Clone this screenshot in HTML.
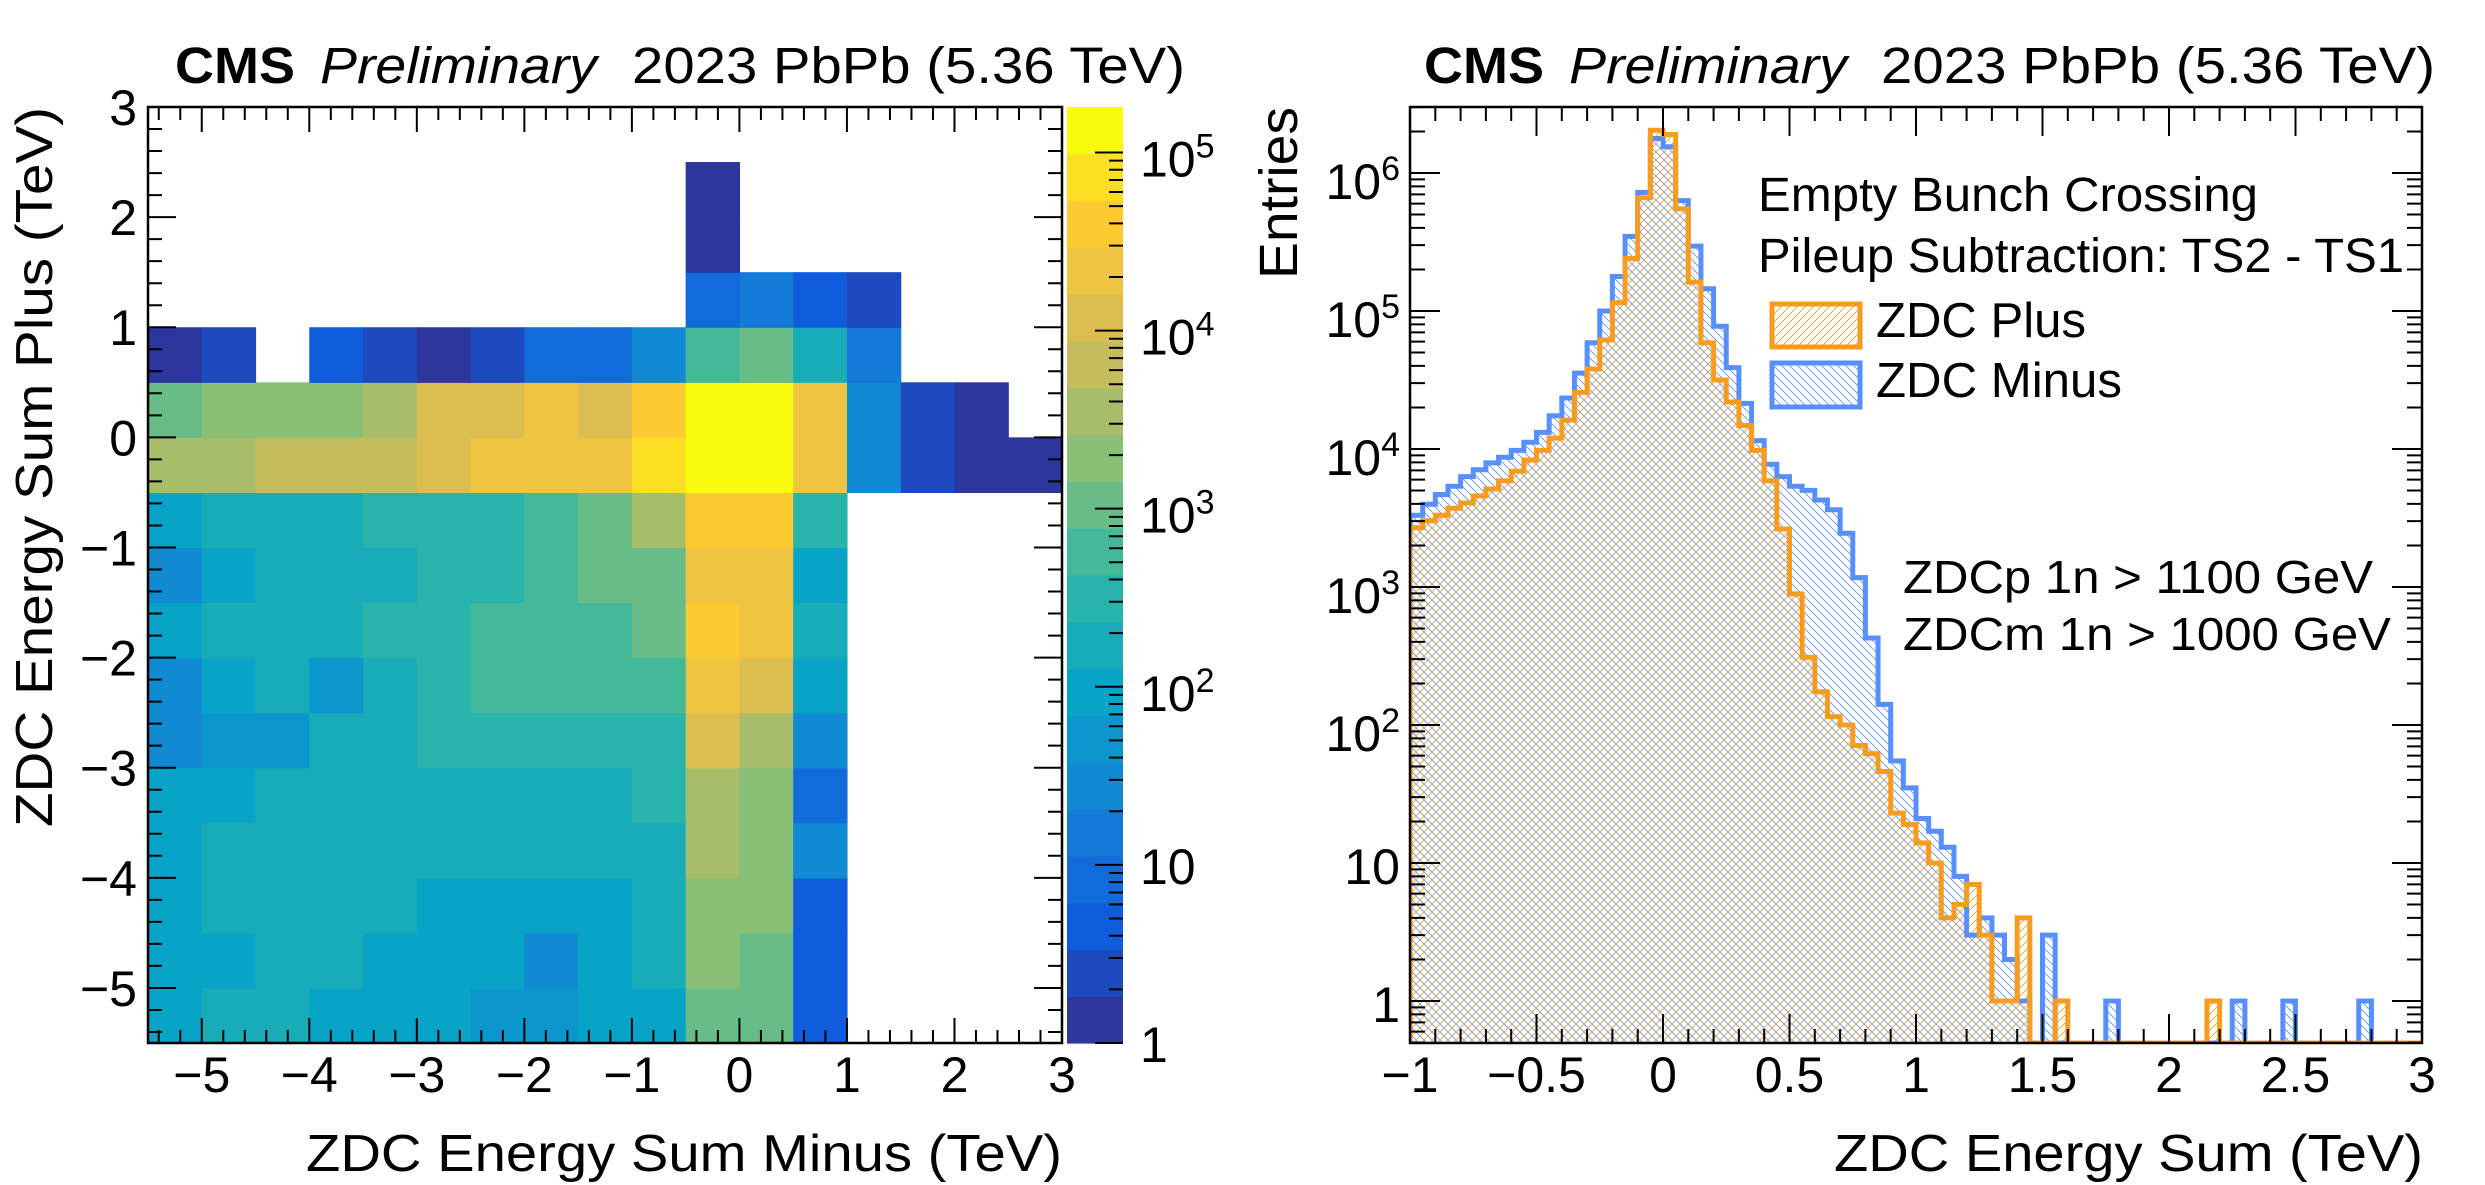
<!DOCTYPE html>
<html><head><meta charset="utf-8"><style>
html,body{margin:0;padding:0;background:#fff;}
svg{display:block;font-family:"Liberation Sans",Arial,sans-serif;}
</style></head><body>
<svg id="chart" width="2485" height="1185" viewBox="0 0 2485 1185" xmlns="http://www.w3.org/2000/svg">
<defs>
<pattern id="hatchOrange" patternUnits="userSpaceOnUse" width="8" height="8">
<path d="M-2,2 L2,-2 M0,8 L8,0 M6,10 L10,6" stroke="#f89c20" stroke-width="0.8"/>
</pattern>
<pattern id="hatchBlue" patternUnits="userSpaceOnUse" width="8" height="8">
<path d="M-2,6 L2,10 M0,0 L8,8 M6,-2 L10,2" stroke="#5790fc" stroke-width="0.8"/>
</pattern>
<clipPath id="rclip"><rect x="1410" y="107" width="1012" height="936"/></clipPath>
</defs>
<g id="left"></g>
<g id="right"></g>
<g id="texts">
<text x="175" y="83" font-size="51" font-weight="bold" textLength="120" lengthAdjust="spacingAndGlyphs">CMS</text>
<text x="320" y="83" font-size="51" font-style="italic" textLength="277" lengthAdjust="spacingAndGlyphs">Preliminary</text>
<text x="632" y="83" font-size="51" textLength="553" lengthAdjust="spacingAndGlyphs">2023 PbPb (5.36 TeV)</text>
<text x="1424" y="83" font-size="51" font-weight="bold" textLength="120" lengthAdjust="spacingAndGlyphs">CMS</text>
<text x="1569" y="83" font-size="51" font-style="italic" textLength="278" lengthAdjust="spacingAndGlyphs">Preliminary</text>
<text x="1881" y="83" font-size="51" textLength="554" lengthAdjust="spacingAndGlyphs">2023 PbPb (5.36 TeV)</text>
<text x="306" y="1171" font-size="52" textLength="756" lengthAdjust="spacingAndGlyphs">ZDC Energy Sum Minus (TeV)</text>
<text transform="translate(52,827) rotate(-90)" x="0" y="0" font-size="52" textLength="720" lengthAdjust="spacingAndGlyphs">ZDC Energy Sum Plus (TeV)</text>
<text x="1834" y="1171" font-size="52" textLength="589" lengthAdjust="spacingAndGlyphs">ZDC Energy Sum (TeV)</text>
<text transform="translate(1297,279) rotate(-90)" x="0" y="0" font-size="54" textLength="172" lengthAdjust="spacingAndGlyphs">Entries</text>
<text x="1758" y="211" font-size="48" textLength="500" lengthAdjust="spacingAndGlyphs">Empty Bunch Crossing</text>
<text x="1758" y="272" font-size="48" textLength="646" lengthAdjust="spacingAndGlyphs">Pileup Subtraction: TS2 - TS1</text>
<rect x="1772" y="304" width="88" height="43" fill="url(#hatchOrange)" stroke="#f89c20" stroke-width="5"/>
<text x="1876" y="337" font-size="49" textLength="210" lengthAdjust="spacingAndGlyphs">ZDC Plus</text>
<rect x="1772" y="363" width="88" height="44" fill="url(#hatchBlue)" stroke="#5790fc" stroke-width="5"/>
<text x="1876" y="397" font-size="49" textLength="246" lengthAdjust="spacingAndGlyphs">ZDC Minus</text>
<text x="1903" y="593" font-size="46" textLength="470" lengthAdjust="spacingAndGlyphs">ZDCp 1n &gt; 1100 GeV</text>
<text x="1903" y="650" font-size="46" textLength="488" lengthAdjust="spacingAndGlyphs">ZDCm 1n &gt; 1000 GeV</text>
</g>
</svg>
<script>
// ---------- Heatmap data (entries per 0.5x0.5 TeV cell), rows from y=-5.5 upward, columns from x=-5.5 ----------
const heatXEdgesStart = -5.5;
const heatBinWidth = 0.5;
const heatRow0 = [93,170,170,93,93,93,51,51,93,93,1050,1050,4.6,0,0,0,0];
const heatRow1 = [93,93,170,170,93,93,93,28,93,170,1900,1050,4.6,0,0,0,0];
const heatRow2 = [93,170,170,170,170,93,93,93,93,170,1900,1900,4.6,0,0,0,0];
const heatRow3 = [93,170,170,170,170,170,170,170,170,170,3550,1900,28,0,0,0,0];
const heatRow4 = [93,93,170,170,170,170,170,170,170,316,3550,1900,8.3,0,0,0,0];
const heatRow5 = [28,51,51,170,170,316,316,316,316,316,11700,3550,28,0,0,0,0];
const heatRow6 = [28,93,170,51,170,316,575,575,575,575,21900,11700,93,0,0,0,0];
const heatRow7 = [93,170,170,170,316,316,575,575,575,1050,39800,21900,170,0,0,0,0];
const heatRow8 = [28,93,170,170,170,316,316,575,1050,1050,21900,21900,93,0,0,0,0];
const heatRow9 = [93,170,170,170,316,316,316,575,1050,3550,39800,39800,316,0,0,0,0];
const heatRow10 = [3550,3550,6450,6450,6450,11700,21900,21900,21900,72400,132000,132000,21900,28,2.5,1.3,1.3];
const heatRow11 = [1050,1900,1900,1900,3550,11700,11700,21900,11700,39800,132000,132000,21900,28,2.5,1.3,0];
const heatRow12 = [1.3,2.5,0,4.6,2.5,1.3,2.5,8.3,8.3,28,575,1050,170,15,0,0,0];
const heatRow13 = [0,0,0,0,0,0,0,0,0,0,8.3,15,4.6,2.5,0,0,0];
const heatRow14 = [0,0,0,0,0,0,0,0,0,0,1.3,0,0,0,0,0,0];
const heatRow15 = [0,0,0,0,0,0,0,0,0,0,1.3,0,0,0,0,0,0];
const heatRow16 = [0,0,0,0,0,0,0,0,0,0,0,0,0,0,0,0,0];
const heatRows = [heatRow0,heatRow1,heatRow2,heatRow3,heatRow4,heatRow5,heatRow6,heatRow7,heatRow8,heatRow9,heatRow10,heatRow11,heatRow12,heatRow13,heatRow14,heatRow15,heatRow16];
const heatXTicks = [-5,-4,-3,-2,-1,0,1,2,3];
const heatXTickLabels = ["\u22125","\u22124","\u22123","\u22122","\u22121","0","1","2","3"];
const heatYTicks = [-5,-4,-3,-2,-1,0,1,2,3];
const heatYTickLabels = ["\u22125","\u22124","\u22123","\u22122","\u22121","0","1","2","3"];
const zMax = 180000;
const zDecades = [0,1,2,3,4,5];
const zDecadeLabels = ["1","10","10","10","10","10"];
const zDecadeExps = ["","","2","3","4","5"];

// ---------- Histogram data (80 bins of 0.05 TeV from -1 to 3) ----------
const histXStart = -1;
const histBinWidth = 0.05;
const zdcPlus = [2690,3020,3310,3720,4070,4570,5130,5890,6920,8320,
 9770,12000,16200,25700,38000,61700,115000,240000,661000,2040000,
 1900000,550000,162000,58900,31600,21900,14800,9770,5890,2630,
 891,309,174,115,100,71,62,46,23,19,
 14,10,4,5,7,3,1,1,4,0,
 0,1,0,0,0,0,0,0,0,0,
 0,0,0,1,0,0,0,0,0,0,
 0,0,0,0,0,0,0,0,0,0];
const zdcMinus = [3310,3980,4680,5370,6310,7080,7940,8710,9770,11200,
 13200,17400,23400,35500,58900,100000,178000,347000,724000,1780000,
 1550000,631000,295000,145000,77600,38900,21400,11500,7760,6310,
 5370,5010,4270,3630,2450,1170,427,141,55,35,
 21,17,13,8,3,4,3,2,1,0,
 3,0,0,0,0,1,0,0,0,0,
 0,0,0,0,0,1,0,0,0,1,
 0,0,0,0,0,1,0,0,0,0];
const histXTicks = [-1,-0.5,0,0.5,1,1.5,2,2.5,3];
const histXTickLabels = ["\u22121","\u22120.5","0","0.5","1","1.5","2","2.5","3"];
const histYDecades = [0,1,2,3,4,5,6];
const histYLabels = ["1","10","10","10","10","10","10"];
const histYExps = ["","","2","3","4","5","6"];

const NS = "http://www.w3.org/2000/svg";
function mk(parent, tag, attrs){const e=document.createElementNS(NS,tag);for(const k in attrs)e.setAttribute(k,attrs[k]);parent.appendChild(e);return e;}
const TF = 50;

// ---------- Left heatmap ----------
const L = document.getElementById('left');
const LX0=148, LX1=1062, LY0=107, LY1=1043;
const hx = v => LX0 + (v+5.5)/8.5*(LX1-LX0);
const hy = v => LY1 - (v+5.5)/8.5*(LY1-LY0);
const stops=[0,0.125,0.25,0.375,0.5,0.625,0.75,0.875,1];
const R=[0.2082,0.0592,0.0780,0.0232,0.1802,0.5301,0.8186,0.9956,0.9764];
const G=[0.1664,0.3599,0.5041,0.6419,0.7178,0.7492,0.7328,0.7862,0.9832];
const B=[0.5293,0.8684,0.8385,0.7914,0.6425,0.4662,0.3499,0.1968,0.0539];
function bird(t){let i=0;while(i<7&&t>stops[i+1])i++;const f=(t-stops[i])/(stops[i+1]-stops[i]);
 const c=a=>Math.round(255*(a[i]+f*(a[i+1]-a[i])));return `rgb(${c(R)},${c(G)},${c(B)})`;}
const NLEV=20, zLogMax=Math.log10(zMax);
const levelColor = k => bird(Math.min(1,(k+0.6)/NLEV + (k===NLEV-1?0.1:0)));
function zLevel(v){let k=Math.floor(Math.log10(v)/zLogMax*NLEV);return Math.max(0,Math.min(NLEV-1,k));}
heatRows.forEach((row,r)=>{
  row.forEach((v,c)=>{
    if(!(v>0))return;
    const x0=heatXEdgesStart+c*heatBinWidth, y0=heatXEdgesStart+r*heatBinWidth;
    const cell=mk(L,'rect',{x:hx(x0),y:hy(y0+heatBinWidth),width:hx(x0+heatBinWidth)-hx(x0)+0.6,height:hy(y0)-hy(y0+heatBinWidth)+0.6,fill:levelColor(zLevel(v))});
    
    
  });
});
const lf=mk(L,'rect',{x:LX0,y:LY0,width:LX1-LX0,height:LY1-LY0,fill:'none',stroke:'#000','stroke-width':2.5});


let tp='';
for(let v=-5.4;v<3.001;v+=0.2){const x=hx(v);const major=Math.abs(v-Math.round(v))<1e-6;const len=major?25:13;
 tp+=`M${x},${LY1}V${LY1-len}M${x},${LY0}V${LY0+len}`;}
for(let v=-5.4;v<3.001;v+=0.2){const y=hy(v);const major=Math.abs(v-Math.round(v))<1e-6;const len=major?28:14;
 tp+=`M${LX0},${y}H${LX0+len}M${LX1},${y}H${LX1-len}`;}
const lt=mk(L,'path',{d:tp,stroke:'#000','stroke-width':2,fill:'none'});


heatXTicks.forEach((v,i)=>{const t=mk(L,'text',{x:hx(v),y:1092,'font-size':TF,'text-anchor':'middle'});t.textContent=heatXTickLabels[i];
 
 });
heatYTicks.forEach((v,i)=>{const t=mk(L,'text',{x:137,y:hy(v)+18,'font-size':TF,'text-anchor':'end'});t.textContent=heatYTickLabels[i];
 
 });
const CX0=1067, CX1=1123;
const cz = lv => LY1 - lv/zLogMax*(LY1-LY0);
for(let k=0;k<NLEV;k++){
  const b=mk(L,'rect',{x:CX0,y:cz((k+1)*zLogMax/NLEV),width:CX1-CX0,height:cz(k*zLogMax/NLEV)-cz((k+1)*zLogMax/NLEV)+0.6,fill:levelColor(k)});
  
  
}
let cp='';
for(let d=0;d<6;d++){for(let m=1;m<10;m++){const lv=d+Math.log10(m);if(lv>zLogMax)break;const y=cz(lv);const len=m===1?28:14;cp+=`M${CX1},${y}H${CX1-len}`;}}
const ct=mk(L,'path',{d:cp,stroke:'#000','stroke-width':2,fill:'none'});


zDecades.forEach((d,i)=>{const y=cz(d);const t=mk(L,'text',{x:1140,y:y+(zDecadeExps[i]?24:19),'font-size':TF});
 t.textContent=zDecadeLabels[i];
 if(zDecadeExps[i]){const s=mk(t,'tspan',{dy:-19,'font-size':34});s.textContent=zDecadeExps[i];}
 
 });

// ---------- Right histogram ----------
const Rg=document.getElementById('right');
const RX0=1410, RX1=2422, RY0=107, RY1=1043;
const rx = v => RX0 + (v+1)/4*(RX1-RX0);
const ry = v => v>0 ? Math.min(RY1, 1001 - 138*Math.log10(v)) : RY1;
function stepPath(arr){let d=`M${rx(histXStart)},${RY1}`;
 arr.forEach((v,i)=>{const x0=rx(histXStart+i*histBinWidth),x1=rx(histXStart+(i+1)*histBinWidth);const y=ry(v);d+=`L${x0},${y}L${x1},${y}`;});
 d+=`L${rx(histXStart+arr.length*histBinWidth)},${RY1}`;return d;}
const g=mk(Rg,'g',{'clip-path':'url(#rclip)'});
const bf=mk(g,'path',{d:stepPath(zdcMinus)+'Z',fill:'url(#hatchBlue)',stroke:'none'});


const of=mk(g,'path',{d:stepPath(zdcPlus)+'Z',fill:'url(#hatchOrange)',stroke:'none'});


const bl=mk(g,'path',{d:stepPath(zdcMinus),fill:'none',stroke:'#5790fc','stroke-width':5});


const ol=mk(g,'path',{d:stepPath(zdcPlus),fill:'none',stroke:'#f89c20','stroke-width':5});


const rf=mk(Rg,'rect',{x:RX0,y:RY0,width:RX1-RX0,height:RY1-RY0,fill:'none',stroke:'#000','stroke-width':2.5});


let rp='';
for(let v=-0.9;v<3.001;v+=0.1){const x=rx(v);const major=Math.abs(v*2-Math.round(v*2))<1e-6;const len=major?29:14;
 rp+=`M${x},${RY1}V${RY1-len}M${x},${RY0}V${RY0+len}`;}
for(let d=-1;d<7;d++){for(let m=1;m<10;m++){const v=Math.pow(10,d)*m;const y=1001-138*Math.log10(v);if(y>RY1||y<RY0)continue;const len=m===1?30:15;
 rp+=`M${RX0},${y}H${RX0+len}M${RX1},${y}H${RX1-len}`;}}
const rt=mk(Rg,'path',{d:rp,stroke:'#000','stroke-width':2,fill:'none'});


histXTicks.forEach((v,i)=>{const t=mk(Rg,'text',{x:rx(v),y:1092,'font-size':TF,'text-anchor':'middle'});t.textContent=histXTickLabels[i];
 
 });
histYDecades.forEach((d,i)=>{const y=1001-138*d;const t=mk(Rg,'text',{x:1400,y:y+(histYExps[i]?26:21),'font-size':TF,'text-anchor':'end'});
 t.textContent=histYLabels[i];
 if(histYExps[i]){const s=mk(t,'tspan',{dy:-19,'font-size':34});s.textContent=histYExps[i];}
 
 });
</script>
</body></html>
